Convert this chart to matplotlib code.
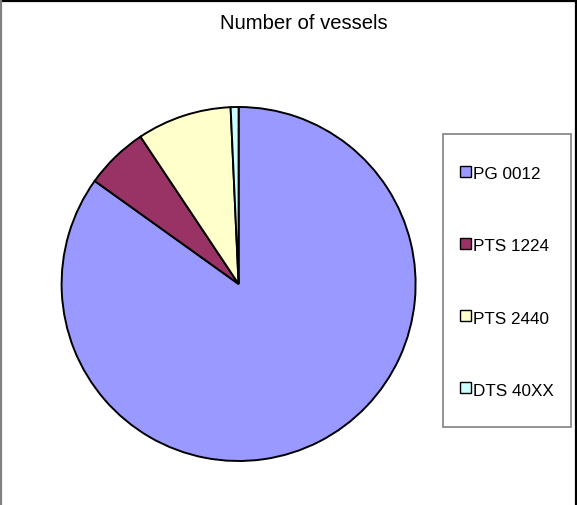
import matplotlib
matplotlib.use("Agg")
import matplotlib.pyplot as plt
from matplotlib.patches import Rectangle
from matplotlib.lines import Line2D

plt.rcParams['font.family'] = ['Liberation Sans', 'DejaVu Sans']

# Vessel counts per type
labels = ["PG 0012", "PTS 1224", "PTS 2440", "DTS 40XX"]
counts = [118, 8, 12, 1]
colors = ["#9999FF", "#993366", "#FFFFCC", "#CCFFFF"]

W, H = 577, 506
fig = plt.figure(figsize=(W / 100, H / 100), dpi=100)


def fx(x):
    return x / W


def fy(y):
    return 1 - y / H


# Pie area (pixel geometry: center ~ (239, 285), radius ~ 177)
cx, cy, r = 238.6, 285.0, 177.0
ax = fig.add_axes([fx(cx - r), fy(cy + r), 2 * r / W, 2 * r / H])
ax.pie(counts, colors=colors, startangle=90, counterclock=False,
       wedgeprops=dict(edgecolor="black", linewidth=1.4))
ax.set_xlim(-1, 1)
ax.set_ylim(-1, 1)
ax.set_aspect("auto")
ax.axis("off")

# Title
fig.text(fx(304), fy(29), "Number of vessels", ha="center", va="baseline",
         fontsize=14.6, color="black")

# Legend box
fig.patches.append(Rectangle((fx(443), fy(428)), fx(571) - fx(443), fy(135) - fy(428),
                             transform=fig.transFigure, facecolor="white",
                             edgecolor="#808080", linewidth=1.2, zorder=1))
for i, (lab, col) in enumerate(zip(labels, colors)):
    yc = 172 + 72.3 * i
    fig.patches.append(Rectangle((fx(460), fy(yc + 5.5)), 11 / W, 11 / H,
                                 transform=fig.transFigure, facecolor=col,
                                 edgecolor="black", linewidth=1.0, zorder=2))
    fig.text(fx(473), fy(yc + 7), lab, ha="left", va="baseline", fontsize=12.3,
             color="black", zorder=3)

# Outer frame lines
fig.lines.append(Line2D([0, 1], [fy(1.5), fy(1.5)], transform=fig.transFigure,
                        color="black", linewidth=1.6))
fig.lines.append(Line2D([fx(0.8), fx(0.8)], [0, fy(1.5)], transform=fig.transFigure,
                        color="#808080", linewidth=1.6))
fig.lines.append(Line2D([fx(576), fx(576)], [0, fy(1.5)], transform=fig.transFigure,
                        color="black", linewidth=1.6))

fig.savefig("out.png", dpi=100, facecolor="white")
